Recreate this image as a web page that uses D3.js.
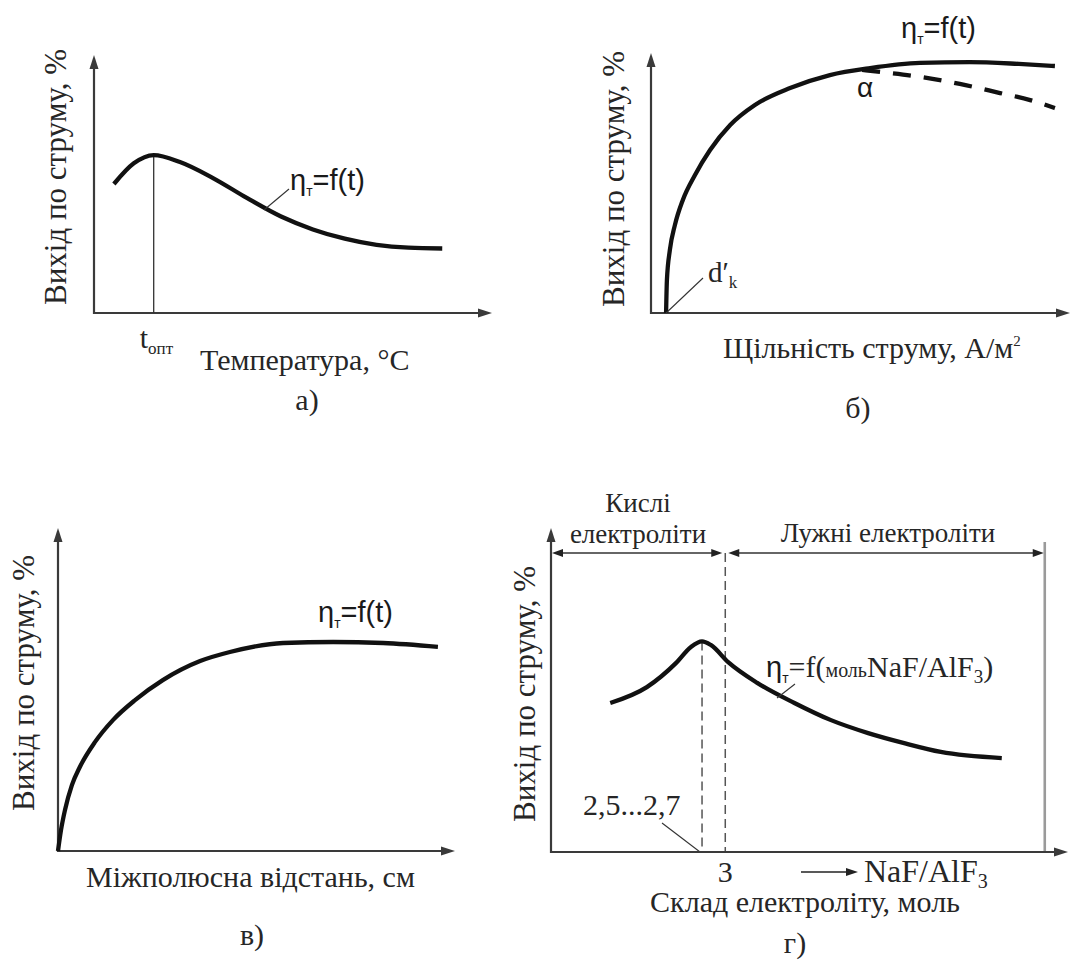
<!DOCTYPE html>
<html>
<head>
<meta charset="utf-8">
<script src="https://cdn.jsdelivr.net/npm/d3@7"></script>
<style>
  body { margin: 0; background: #fff; }
  svg { display: block; }
  .serif { font-family: "Liberation Serif", "Times New Roman", serif; fill: #262626; }
  .sans { font-family: "Liberation Sans", Arial, sans-serif; fill: #1a1a1a; }
</style>
</head>
<body>
<svg id="chart" width="1076" height="966"></svg>
<script>
// ---- а) current efficiency vs. temperature ----
const tempX   = [5, 10, 15, 21.6, 29.9, 38.4, 47, 55, 63, 71, 79, 87.5];
const tempEff = [50, 58, 61.2, 58.5, 52.3, 44.6, 37.4, 32.4, 28.8, 26.4, 25.3, 25.0];
const tempOpt = 15;

// ---- б) current efficiency vs. current density ----
const densX   = [3.6, 3.8, 4.5, 5.7, 7.6, 10.5, 14.1, 18.9, 24.8, 33.2, 42.7, 52.3, 64.2, 76, 87.8, 96.4];
const densEff = [0, 12.7, 24.2, 33.8, 43.5, 53.1, 62.7, 72.3, 80, 86.5, 91.5, 94.2, 96.2, 96.5, 95.8, 95];
const densDropX   = [50.4, 54.7, 64.2, 73.7, 83.3, 90.5, 96.4];
const densDropEff = [93.5, 92.7, 90.8, 88.1, 84.6, 81.9, 78.8];
const densStart = 3.6;

// ---- в) current efficiency vs. anode–cathode distance ----
const gapX   = [0, 0.76, 1.76, 3.5, 5.5, 9.3, 13.9, 19.4, 26.4, 35.8, 43.3, 56.7, 69.3, 81.9, 95.7];
const gapEff = [0, 6.5, 12.7, 20.4, 26, 33.7, 40.6, 46.7, 52.9, 58.8, 61.6, 64.4, 64.7, 64.4, 63.2];

// ---- г) current efficiency vs. cryolite ratio NaF/AlF3 ----
const ratioX   = [1.02, 1.65, 2.15, 2.41, 2.6, 2.75, 3.05, 3.55, 4.19, 4.82, 5.46, 6.08, 6.71, 7.76];
const ratioEff = [46, 50.9, 58.3, 63.3, 65, 63.9, 58.6, 52.2, 46, 40.7, 36.7, 33.6, 30.9, 29];
const ratioPeak = 2.6;
const ratioNeutral = 3;
const ratioLimit = 8.5;
const ratioTicks = [3];

const yLabel = "Вихід по струму, %";

const svg = d3.select("#chart");
const AXIS = "#3a3a3a";

function arrowHead(g, x, y, angleDeg, len, wid, color) {
  const a = angleDeg * Math.PI / 180;
  const bx = x - len * Math.cos(a), by = y - len * Math.sin(a);
  const px = -Math.sin(a) * wid / 2, py = Math.cos(a) * wid / 2;
  g.append("path")
    .attr("d", `M${x},${y}L${bx + px},${by + py}L${bx - px},${by - py}Z`)
    .attr("fill", color || AXIS);
}

function frame(x, y) {
  const g = svg.append("g");
  // axes drawn from the scale ranges, each ending in an arrowhead
  const [x0, x1] = x.range(), [y0, y1] = y.range();
  g.append("line").attr("x1", x0).attr("x2", x0).attr("y1", y0 + 1).attr("y2", y1 + 6)
    .attr("stroke", AXIS).attr("stroke-width", 2.2);
  g.append("line").attr("x1", x0 - 1).attr("x2", x1 - 6).attr("y1", y0).attr("y2", y0)
    .attr("stroke", AXIS).attr("stroke-width", 2.2);
  arrowHead(g, x0, y1, -90, 14, 9);
  arrowHead(g, x1, y0, 0, 14, 9);
  return g;
}

function curve(g, x, y, xs, ys, dash) {
  const line = d3.line().x(d => x(d[0])).y(d => y(d[1])).curve(d3.curveMonotoneX);
  g.append("path").datum(d3.zip(xs, ys)).attr("d", line)
    .attr("fill", "none").attr("stroke", "#111").attr("stroke-width", 4.3)
    .attr("stroke-linecap", "butt")
    .attr("stroke-dasharray", dash || null);
}

function vLabel(g, cx, cy) {
  g.append("text").attr("class", "serif")
    .attr("transform", `translate(${cx},${cy}) rotate(-90)`)
    .attr("text-anchor", "middle").style("font-size", "31px").text(yLabel);
}

function text(g, x, y, s, size, anchor, cls) {
  return g.append("text").attr("class", cls || "serif").attr("x", x).attr("y", y)
    .attr("text-anchor", anchor || "start").style("font-size", size + "px").text(s);
}

function etaLabel(g, x, y) {
  const t = g.append("text").attr("class", "sans").attr("x", x).attr("y", y).style("font-size", "29px");
  t.append("tspan").text("η");
  t.append("tspan").attr("dy", 6).style("font-size", "14px").text("т");
  t.append("tspan").attr("dy", -6).text("=f(t)");
  return t;
}

function leader(g, x1, y1, x2, y2) {
  g.append("line").attr("x1", x1).attr("y1", y1).attr("x2", x2).attr("y2", y2)
    .attr("stroke", "#333").attr("stroke-width", 1.1);
}

// ================= а) =================
{
  const x = d3.scaleLinear().domain([0, 100]).range([94, 492]);
  const y = d3.scaleLinear().domain([0, 100]).range([313, 55]);
  const g = frame(x, y);
  const peak = tempEff[tempX.indexOf(tempOpt)];
  g.append("line").attr("x1", x(tempOpt)).attr("x2", x(tempOpt)).attr("y1", y(0)).attr("y2", y(peak))
    .attr("stroke", "#333").attr("stroke-width", 1.3);
  curve(g, x, y, tempX, tempEff);
  etaLabel(g, 290, 190);
  leader(g, 264, 210, 289, 189);
  vLabel(g, 66, 177);
  const t = text(g, x(tempOpt) - 14, 348, "t", 30);
  t.append("tspan").attr("dy", 6).style("font-size", "17px").text("опт");
  text(g, 200, 370, "Температура, °С", 30);
  text(g, 307, 410, "а)", 30, "middle");
}

// ================= б) =================
{
  const x = d3.scaleLinear().domain([0, 100]).range([651, 1070]);
  const y = d3.scaleLinear().domain([0, 100]).range([313, 53]);
  const g = frame(x, y);
  curve(g, x, y, densX, densEff);
  curve(g, x, y, densDropX, densDropEff, "18,13");
  etaLabel(g, 901, 38);
  text(g, 857, 97, "α", 28, "start", "sans");
  leader(g, x(densStart), y(0), 703, 278);
  const d = text(g, 708, 282, "d", 29);
  d.append("tspan").text("′");
  d.append("tspan").attr("dy", 6).style("font-size", "17px").text("k");
  vLabel(g, 624, 179);
  const t = text(g, 723, 358, "Щільність струму, А/м", 30);
  t.append("tspan").attr("dy", -12).style("font-size", "15px").text("2");
  text(g, 858, 418, "б)", 30, "middle");
}

// ================= в) =================
{
  const x = d3.scaleLinear().domain([0, 100]).range([58, 455]);
  const y = d3.scaleLinear().domain([0, 100]).range([851, 528]);
  const g = frame(x, y);
  curve(g, x, y, gapX, gapEff);
  etaLabel(g, 318, 622);
  vLabel(g, 34, 683);
  text(g, 86, 887, "Міжполюсна відстань, см", 30);
  text(g, 252, 945, "в)", 30, "middle");
}

// ================= г) =================
{
  const x = d3.scaleLinear().domain([0, 8.9]).range([551, 1068]);
  const y = d3.scaleLinear().domain([0, 100]).range([852, 528]);
  const g = svg.append("g");

  // zone boundaries
  const bracketY = 553;
  g.append("line").attr("x1", x(ratioLimit)).attr("x2", x(ratioLimit)).attr("y1", 542).attr("y2", y(0))
    .attr("stroke", "#9a9a9a").attr("stroke-width", 2.6);
  g.append("line").attr("x1", x(ratioNeutral)).attr("x2", x(ratioNeutral)).attr("y1", bracketY).attr("y2", y(0))
    .attr("stroke", "#555").attr("stroke-width", 1.5).attr("stroke-dasharray", "9,5");
  g.append("line").attr("x1", x(ratioPeak)).attr("x2", x(ratioPeak))
    .attr("y1", y(ratioEff[ratioX.indexOf(ratioPeak)])).attr("y2", y(0))
    .attr("stroke", "#555").attr("stroke-width", 1.5).attr("stroke-dasharray", "9,5");

  // double-headed range arrows for the two electrolyte zones
  const spans = [[0, ratioNeutral], [ratioNeutral, ratioLimit]];
  spans.forEach(([a, b], i) => {
    const xa = x(a) + (i ? 3 : 1), xb = x(b) - (i ? 1 : 3);
    g.append("line").attr("x1", xa + 6).attr("x2", xb - 6).attr("y1", bracketY).attr("y2", bracketY)
      .attr("stroke", "#333").attr("stroke-width", 1.6);
    arrowHead(g, xa, bracketY, 180, 11, 8, "#222");
    arrowHead(g, xb, bracketY, 0, 11, 8, "#222");
  });

  frame(x, y);
  // tick label on the ratio axis
  g.selectAll("text.tick").data(ratioTicks).join("text").attr("class", "serif tick")
    .attr("x", d => x(d)).attr("y", 882).attr("text-anchor", "middle").style("font-size", "30px").text(d => d);

  curve(g, x, y, ratioX, ratioEff);

  text(g, 638, 512, "Кислі", 27, "middle");
  text(g, 638, 543, "електроліти", 27, "middle");
  text(g, 888, 542, "Лужні електроліти", 27, "middle");

  // curve label
  const labX = 766, labY = 677;
  const lab = g.append("text").attr("class", "sans").attr("x", labX).attr("y", labY).style("font-size", "29px");
  lab.append("tspan").text("η");
  lab.append("tspan").attr("dy", 6).style("font-size", "14px").text("т");
  const rest = g.append("text").attr("class", "serif").attr("y", labY).style("font-size", "30px");
  rest.attr("x", labX + lab.node().getComputedTextLength());
  rest.append("tspan").text("=f(");
  rest.append("tspan").style("font-size", "20px").text("моль");
  rest.append("tspan").text("NaF/AlF");
  rest.append("tspan").attr("dy", 6).style("font-size", "19px").text("3");
  rest.append("tspan").attr("dy", -6).text(")");
  leader(g, 795, 684, 777, 698);

  text(g, 583, 815, "2,5...2,7", 30);
  leader(g, 662, 823, x(ratioPeak) - 2, y(0));

  // direction arrow for the ratio
  g.append("line").attr("x1", 801).attr("x2", 848).attr("y1", 872).attr("y2", 872)
    .attr("stroke", "#222").attr("stroke-width", 1.6);
  arrowHead(g, 858, 872, 0, 12, 8, "#222");
  const nf = text(g, 864, 882, "NaF/AlF", 32);
  nf.append("tspan").attr("dy", 6).style("font-size", "20px").text("3");

  vLabel(g, 535, 694);
  text(g, 805, 912, "Склад електроліту, моль", 30, "middle");
  text(g, 795, 953, "г)", 30, "middle");
}
</script>
</body>
</html>
